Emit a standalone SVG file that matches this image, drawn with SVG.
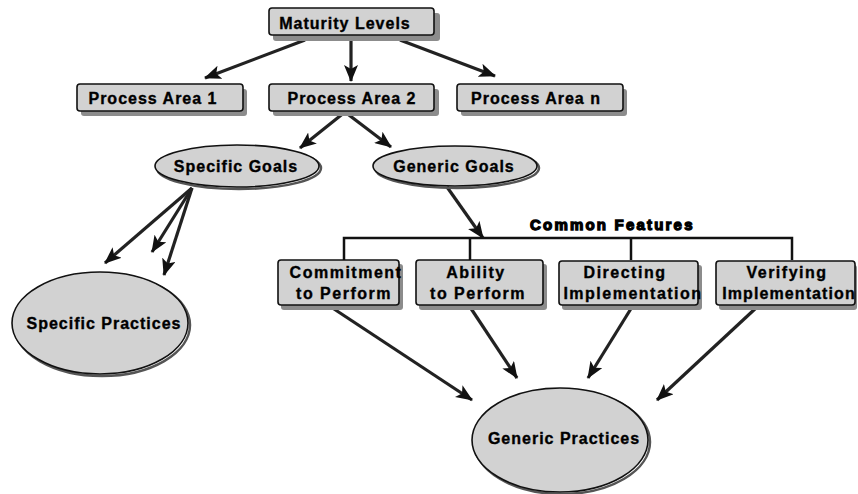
<svg xmlns="http://www.w3.org/2000/svg" width="858" height="494" viewBox="0 0 858 494">
<defs>
<marker id="ah" markerUnits="userSpaceOnUse" markerWidth="18" markerHeight="14" refX="16" refY="7" orient="auto">
<path d="M0,0 L17,7 L0,14 L4,7 Z" fill="#111"/>
</marker>
<style>
.box{fill:#d2d2d2;stroke:#111;stroke-width:1.6}
.shadow{fill:#8c8c8c}
.ell{fill:#d2d2d2;stroke:#111;stroke-width:1.6}
.eshadow{fill:none;stroke:#555;stroke-width:2.5}
.t{font-family:"Liberation Sans",Arial,sans-serif;font-weight:bold;font-size:16px;letter-spacing:1px;fill:#000;stroke:#000;stroke-width:0.35;text-anchor:middle}
.s{font-size:16px;letter-spacing:1.5px}
.cf{font-family:"Liberation Sans",Arial,sans-serif;font-weight:900;font-size:15px;letter-spacing:2.2px;fill:#000;stroke:#000;stroke-width:1.3}
.c{fill:none;stroke:#222;stroke-width:3.2}
.ca{fill:none;stroke:#222;stroke-width:3.2;marker-end:url(#ah)}
.bar{fill:none;stroke:#111;stroke-width:2.5}
</style>
</defs>
<rect width="858" height="494" fill="#fff"/>
<g id="connectors">
<line class="ca" x1="305" y1="40" x2="205" y2="78"/>
<line class="ca" x1="351" y1="40" x2="351" y2="81"/>
<line class="ca" x1="400" y1="40" x2="495" y2="76"/>
<line class="ca" x1="345" y1="112" x2="300" y2="148"/>
<line class="ca" x1="345" y1="112" x2="391" y2="147"/>
<line class="ca" x1="192" y1="188" x2="105" y2="263"/>
<line class="ca" x1="192" y1="188" x2="152" y2="252"/>
<line class="ca" x1="192" y1="188" x2="164" y2="275"/>
<line class="ca" x1="447" y1="187" x2="483" y2="238"/>
<polyline class="bar" points="344,260 344,238 792,238 792,260"/>
<line class="bar" x1="470" y1="238" x2="470" y2="260"/>
<line class="bar" x1="631" y1="238" x2="631" y2="260"/>
<line class="ca" x1="331" y1="307" x2="472" y2="400"/>
<line class="ca" x1="470" y1="307" x2="517" y2="378"/>
<line class="ca" x1="632" y1="307" x2="588" y2="378"/>
<line class="ca" x1="756" y1="308" x2="657" y2="400"/>
</g>
<g id="maturity-levels">
<rect class="shadow" x="273" y="13" width="167" height="28" rx="3"/>
<rect class="box" x="269" y="8" width="165" height="27" rx="3"/>
<text class="t" x="345" y="29">Maturity Levels</text>
</g>
<g id="process-area-1">
<rect class="shadow" x="81" y="89" width="166" height="27" rx="3"/>
<rect class="box" x="77" y="84" width="166" height="27" rx="3"/>
<text class="t" x="153" y="104">Process Area 1</text>
</g>
<g id="process-area-2">
<rect class="shadow" x="273" y="89" width="166" height="27" rx="3"/>
<rect class="box" x="269" y="84" width="165" height="27" rx="3"/>
<text class="t" x="352" y="104">Process Area 2</text>
</g>
<g id="process-area-n">
<rect class="shadow" x="461" y="89" width="166" height="27" rx="3"/>
<rect class="box" x="457" y="84" width="166" height="27" rx="3"/>
<text class="t" x="536" y="104">Process Area n</text>
</g>
<g id="specific-goals">
<ellipse class="eshadow" cx="239" cy="168" rx="82" ry="21"/>
<ellipse class="ell" cx="237" cy="166" rx="82" ry="21"/>
<text class="t" x="236" y="172">Specific Goals</text>
</g>
<g id="generic-goals">
<ellipse class="eshadow" cx="457" cy="168" rx="82" ry="20"/>
<ellipse class="ell" cx="455" cy="166" rx="82" ry="20"/>
<text class="t" x="454" y="172">Generic Goals</text>
</g>
<g id="common-features">
<text class="cf" x="530" y="230">Common Features</text>
</g>
<g id="commitment">
<rect class="shadow" x="281" y="264" width="122" height="46" rx="3"/>
<rect class="box" x="278" y="260" width="121" height="45" rx="3"/>
<text class="t s" x="346" y="278">Commitment</text>
<text class="t s" x="344" y="299">to Perform</text>
</g>
<g id="ability">
<rect class="shadow" x="419" y="264" width="128" height="46" rx="3"/>
<rect class="box" x="416" y="260" width="127" height="45" rx="3"/>
<text class="t s" x="476" y="278">Ability</text>
<text class="t s" x="478" y="299">to Perform</text>
</g>
<g id="directing">
<rect class="shadow" x="562" y="265" width="140" height="45" rx="3"/>
<rect class="box" x="559" y="261" width="139" height="44" rx="3"/>
<text class="t s" x="625" y="278">Directing</text>
<text class="t s" x="633" y="299">Implementation</text>
</g>
<g id="verifying">
<rect class="shadow" x="719" y="265" width="138" height="45" rx="3"/>
<rect class="box" x="716" y="261" width="139" height="44" rx="3"/>
<text class="t s" x="787" y="278">Verifying</text>
<text class="t s" x="789" y="299" style="letter-spacing:1.1px">Implementation</text>
</g>
<g id="specific-practices">
<ellipse class="eshadow" cx="102" cy="325" rx="88" ry="51"/>
<ellipse class="ell" cx="100" cy="323" rx="88" ry="51"/>
<text class="t" x="104" y="329">Specific Practices</text>
</g>
<g id="generic-practices">
<ellipse class="eshadow" cx="562" cy="442" rx="88" ry="52"/>
<ellipse class="ell" cx="560" cy="440" rx="88" ry="52"/>
<text class="t" x="564" y="444">Generic Practices</text>
</g>
</svg>
